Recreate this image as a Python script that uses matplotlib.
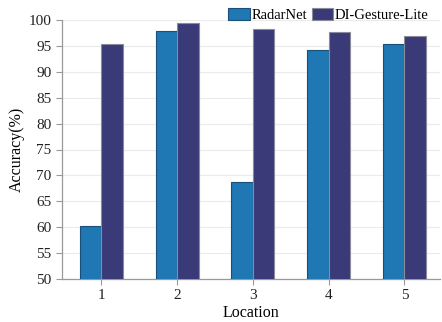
import numpy as np
import matplotlib
matplotlib.use("Agg")
import matplotlib.pyplot as plt

plt.rcParams['font.family'] = ['Liberation Serif', 'DejaVu Serif']

locations = [1, 2, 3, 4, 5]
radarnet = [60.2, 97.8, 68.7, 94.3, 95.4]
di_gesture = [95.4, 99.5, 98.3, 97.7, 97.0]

fig = plt.figure(figsize=(4.42, 3.22), dpi=100)
ax = fig.add_axes([62 / 442, 1 - 279 / 322, (440 - 62) / 442, (279 - 20) / 322])

x = np.array(locations)
w = 0.285
ax.bar(x - w / 2, radarnet, w, color='#1f77b4', edgecolor='#1a4f7a', linewidth=0.8,
       label='RadarNet', zorder=3)
ax.bar(x + w / 2, di_gesture, w, color='#3a3a78', edgecolor='#8a8a9a', linewidth=0.8,
       label='DI-Gesture-Lite', zorder=3)

ax.set_ylim(50, 100)
ax.set_xlim(0.48, 5.47)
ax.set_yticks(np.arange(50, 101, 5))
ax.set_xticks(locations)
ax.tick_params(labelsize=11, colors='#999999', labelcolor='#222222', length=4, width=0.8)
ax.yaxis.grid(True, color='#ebebeb', linewidth=0.8, zorder=0)
ax.set_axisbelow(True)

for s in ['top', 'right']:
    ax.spines[s].set_visible(False)
for s in ['left', 'bottom']:
    ax.spines[s].set_color('#999999')
    ax.spines[s].set_linewidth(0.9)

ax.set_xlabel('Location', fontsize=11.5, labelpad=2)
ax.set_ylabel('Accuracy(%)', fontsize=11.5, labelpad=3)

ax.legend(loc='upper right', bbox_to_anchor=(0.97, 1.045), ncol=2, frameon=False,
          fontsize=10.5, handlelength=1.5, handleheight=0.85, handletextpad=0.1,
          columnspacing=0.3, borderaxespad=0, borderpad=0)

fig.savefig('out.png', dpi=100)
